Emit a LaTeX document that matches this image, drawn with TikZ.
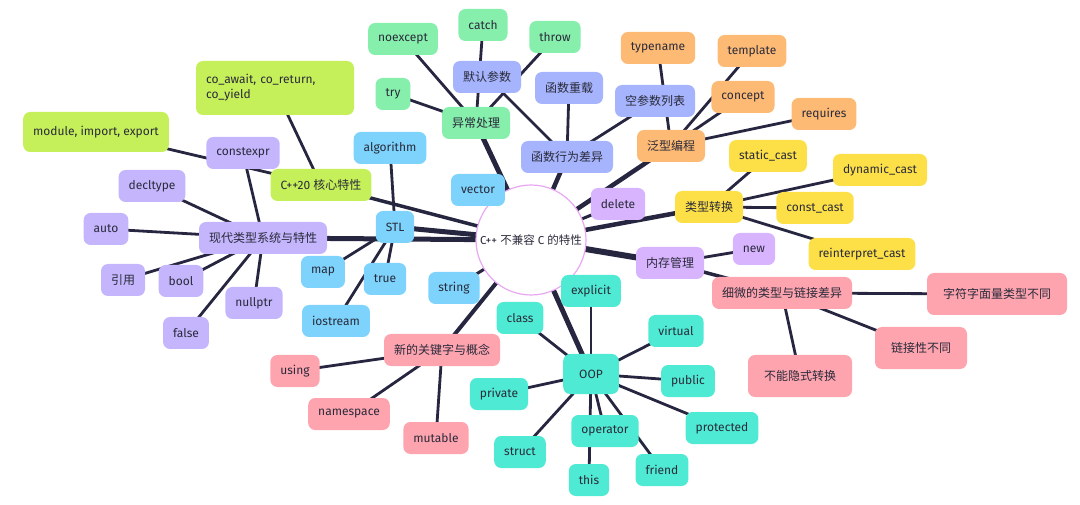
\documentclass[tikz,border=0pt]{standalone}
\usepackage{fontspec}
\setmainfont{Fira Sans}
\newfontfamily\cjk{Noto Sans CJK SC}
\usetikzlibrary{backgrounds}
\definecolor{edge}{HTML}{272640}
\definecolor{txt}{HTML}{2A2A3A}
\definecolor{cPur}{HTML}{C4B5FD}
\definecolor{cBlue}{HTML}{7DD3FC}
\definecolor{cLime}{HTML}{C6F05A}
\definecolor{cGreen}{HTML}{86EFAC}
\definecolor{cIndigo}{HTML}{A5B4FC}
\definecolor{cOrange}{HTML}{FDBA74}
\definecolor{cYellow}{HTML}{FDE047}
\definecolor{cLilac}{HTML}{D8B4FE}
\definecolor{cPink}{HTML}{FDA4AF}
\definecolor{cTeal}{HTML}{4EEAD3}
\definecolor{cRing}{HTML}{E9A8F2}
\tikzset{
 nd/.style={rounded corners=7pt,minimum height=32pt,inner xsep=10pt,font=\fontsize{12}{15}\selectfont,text=txt},
 ed/.style={draw=edge,line width=3.5pt,line cap=round},
 lf/.style={draw=edge,line width=2.8pt,line cap=round},
}
\begin{document}
\begin{tikzpicture}[x=1pt,y=-1pt]
\useasboundingbox (0,0) rectangle (1080,505);
\node[circle,draw=cRing,line width=1.2pt,fill=white,minimum size=110pt,text=txt,font=\fontsize{11.5}{14}\selectfont] (c) at (531,240) {C++ {\cjk 不兼容} C {\cjk 的特性}};
% purple
\node[nd,fill=cPur] (mt) at (263,238) {\cjk 现代类型系统与特性};
\node[nd,fill=cPur] (constexpr) at (243,153) {constexpr};
\node[nd,fill=cPur] (decltype) at (152,186) {decltype};
\node[nd,fill=cPur] (auto) at (106,229) {auto};
\node[nd,fill=cPur] (ref) at (123,280) {\cjk 引用};
\node[nd,fill=cPur] (bool) at (181,281) {bool};
\node[nd,fill=cPur] (nullptr) at (254,303) {nullptr};
\node[nd,fill=cPur] (false) at (186,333) {false};
% STL
\node[nd,fill=cBlue] (stl) at (395,227) {STL};
\node[nd,fill=cBlue] (algorithm) at (390,148) {algorithm};
\node[nd,fill=cBlue] (vector) at (478,190) {vector};
\node[nd,fill=cBlue] (map) at (323,272) {map};
\node[nd,fill=cBlue] (true) at (385,279) {true};
\node[nd,fill=cBlue] (iostream) at (336,321) {iostream};
\node[nd,fill=cBlue] (string) at (454,288) {string};
% C++20
\node[nd,fill=cLime] (cxx) at (321,185) {C++20 {\cjk 核心特性}};
\node[nd,fill=cLime,align=left,minimum height=54pt,text width=138pt] (co) at (275,88) {co\_await, co\_return,\\co\_yield};
\node[nd,fill=cLime,minimum height=40pt] (module) at (96,132) {module, import, export};
% exceptions
\node[nd,fill=cGreen] (exc) at (476,123) {\cjk 异常处理};
\node[nd,fill=cGreen] (try) at (393,94) {try};
\node[nd,fill=cGreen] (noexcept) at (403,39) {noexcept};
\node[nd,fill=cGreen] (catch) at (483,25) {catch};
\node[nd,fill=cGreen] (throw) at (555,37) {throw};
% functions
\node[nd,fill=cIndigo] (fn) at (567,157) {\cjk 函数行为差异};
\node[nd,fill=cIndigo] (defarg) at (487,77) {\cjk 默认参数};
\node[nd,fill=cIndigo] (overload) at (569,88) {\cjk 函数重载};
\node[nd,fill=cIndigo] (empty) at (655,101) {\cjk 空参数列表};
% generic
\node[nd,fill=cOrange] (gen) at (671,146) {\cjk 泛型编程};
\node[nd,fill=cOrange] (typename) at (658,48) {typename};
\node[nd,fill=cOrange] (template) at (752,51) {template};
\node[nd,fill=cOrange] (concept) at (743,97) {concept};
\node[nd,fill=cOrange] (requires) at (824,114) {requires};
% casts
\node[nd,fill=cYellow] (cast) at (709,207) {\cjk 类型转换};
\node[nd,fill=cYellow] (static) at (768,156) {static\_cast};
\node[nd,fill=cYellow] (dynamic) at (880,170) {dynamic\_cast};
\node[nd,fill=cYellow] (const) at (815,208) {const\_cast};
\node[nd,fill=cYellow] (reinterpret) at (862,254) {reinterpret\_cast};
% memory
\node[nd,fill=cLilac] (delete) at (618,204) {delete};
\node[nd,fill=cLilac] (mem) at (670,263) {\cjk 内存管理};
\node[nd,fill=cLilac] (new) at (754,249) {new};
% subtle
\node[nd,fill=cPink] (sub) at (782,293) {\cjk 细微的类型与链接差异};
\node[nd,fill=cPink,minimum height=42pt,inner xsep=16pt] (charlit) at (997,294) {\cjk 字符字面量类型不同};
\node[nd,fill=cPink,minimum height=42pt,inner xsep=16pt] (link) at (921,348) {\cjk 链接性不同};
\node[nd,fill=cPink,minimum height=42pt,inner xsep=16pt] (noimp) at (800,376) {\cjk 不能隐式转换};
% keywords
\node[nd,fill=cPink] (kw) at (442,350) {\cjk 新的关键字与概念};
\node[nd,fill=cPink] (using) at (295,371) {using};
\node[nd,fill=cPink] (namespace) at (349,414) {namespace};
\node[nd,fill=cPink] (mutable) at (436,438) {mutable};
% OOP
\node[nd,fill=cTeal,minimum height=40pt,inner xsep=16pt] (oop) at (591,374) {OOP};
\node[nd,fill=cTeal] (class) at (520,318) {class};
\node[nd,fill=cTeal] (explicit) at (591,291) {explicit};
\node[nd,fill=cTeal] (virtual) at (676,331) {virtual};
\node[nd,fill=cTeal] (public) at (688,381) {public};
\node[nd,fill=cTeal] (protected) at (722,428) {protected};
\node[nd,fill=cTeal] (friend) at (662,470) {friend};
\node[nd,fill=cTeal] (operator) at (605,431) {operator};
\node[nd,fill=cTeal] (this) at (589,480) {this};
\node[nd,fill=cTeal] (struct) at (520,452) {struct};
\node[nd,fill=cTeal] (private) at (499,394) {private};
\begin{scope}[on background layer]
\foreach \n/\w in {mt/5,stl/5,cxx/3.5,exc/5,fn/4.5,gen/4.5,cast/4.5,mem/6,kw/4,oop/5,delete/3,vector/3,string/3}
  \draw[ed,line width=\w pt] (c.center) -- (\n.center);
\draw[ed] (mem.center) -- (sub.center);
\foreach \n in {constexpr,decltype,auto,ref,bool,nullptr,false} \draw[lf] (mt.center) -- (\n.center);
\foreach \n in {algorithm,map,true,iostream} \draw[lf] (stl.center) -- (\n.center);
\foreach \n in {co,module} \draw[lf] (cxx.center) -- (\n.center);
\foreach \n in {try,noexcept,catch,throw} \draw[lf] (exc.center) -- (\n.center);
\foreach \n in {defarg,overload,empty} \draw[lf] (fn.center) -- (\n.center);
\foreach \n in {typename,template,concept,requires} \draw[lf] (gen.center) -- (\n.center);
\foreach \n in {static,dynamic,const,reinterpret} \draw[lf] (cast.center) -- (\n.center);
\draw[lf] (mem.center) -- (new.center);
\foreach \n in {charlit,link,noimp} \draw[lf] (sub.center) -- (\n.center);
\foreach \n in {using,namespace,mutable} \draw[lf] (kw.center) -- (\n.center);
\foreach \n in {class,explicit,virtual,public,protected,friend,operator,this,struct,private} \draw[lf] (oop.center) -- (\n.center);
\end{scope}
\end{tikzpicture}
\end{document}
